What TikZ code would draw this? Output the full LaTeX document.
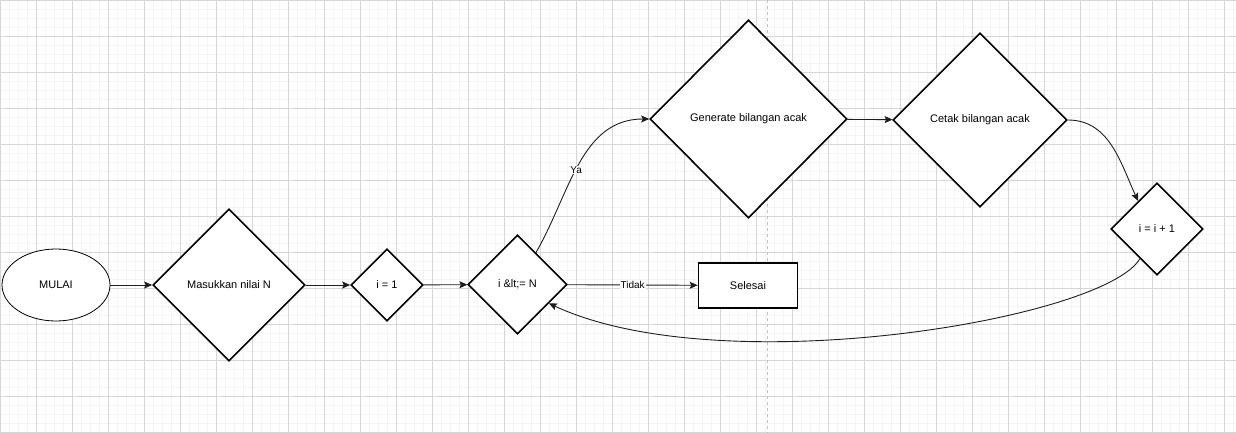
\documentclass[tikz,border=0pt]{standalone}
\usepackage{fontspec}
\setmainfont{Liberation Sans}
\usetikzlibrary{arrows.meta,shapes.geometric}
\definecolor{gridMinor}{RGB}{244,244,244}
\definecolor{gridMajor}{RGB}{214,214,214}
\definecolor{pageGray}{RGB}{192,192,192}
\definecolor{edgeDark}{RGB}{30,30,30}

\begin{document}
\begin{tikzpicture}[x=1pt, y=1pt,
  terminal/.style={ellipse, draw=black, line width=0.8pt, fill=white, minimum width=108pt, minimum height=72pt, inner sep=0pt, font=\fontsize{11}{13}\selectfont},
  dec/.style={diamond, aspect=1, draw=black, line width=1.6pt, fill=white, inner sep=0pt, font=\fontsize{11}{13}\selectfont},
  proc/.style={draw=black, line width=1.6pt, fill=white, minimum width=99pt, minimum height=45pt, inner sep=0pt, font=\fontsize{11}{13}\selectfont},
  arr/.style={-{Stealth[length=8pt, width=7pt, inset=1.5pt]}, line width=0.9pt, edgeDark},
  lab/.style={font=\fontsize{10}{12}\selectfont, text=black, fill=white, inner sep=1pt}
]
  \useasboundingbox (0,0) rectangle (1236,-433);
  \fill[white] (0,0) rectangle (1236,-433);
  \draw[gridMinor, line width=0.8pt] (0,-433) grid[step=9pt] (1236,0);
  \draw[gridMajor, line width=0.8pt] (0,-433) grid[step=36pt] (1236,0);
  \draw[pageGray, line width=1pt, dash pattern=on 3pt off 3pt] (767,0) -- (767,-433);

  \node[terminal] (mulai) at (56,-285) {MULAI};
  \node[dec, minimum width=152pt, minimum height=152pt] (input) at (229,-285) {Masukkan nilai N};
  \node[dec, minimum width=72pt, minimum height=72pt] (init) at (387,-285) {i = 1};
  \node[dec, minimum width=99pt, minimum height=99pt] (cond) at (517.5,-284.5) {i \&lt;= N};
  \node[proc] (selesai) at (748,-285.5) {Selesai};
  \node[dec, minimum width=197pt, minimum height=198pt] (gen) at (748.5,-119) {Generate bilangan acak};
  \node[dec, minimum width=174pt, minimum height=174pt] (cetak) at (980,-120) {Cetak bilangan acak};
  \node[dec, minimum width=92pt, minimum height=92pt] (inc) at (1157,-229) {i = i + 1};

  \draw[arr] (mulai) -- (input);
  \draw[arr] (input) -- (init);
  \draw[arr] (init) -- (cond);
  \draw[arr] (cond) -- node[lab] {Tidak} (selesai);
  \draw[arr] (cond.60) to[out=60, in=180] node[lab, pos=0.46] {Ya} (gen.west);
  \draw[arr] (gen) -- (cetak);
  \draw[arr] (cetak.east) to[out=0, in=115] (inc.124);
  \draw[arr] (inc.240) to[out=240, in=-25, out distance=70, in distance=190] (cond.-31);
\end{tikzpicture}
\end{document}
